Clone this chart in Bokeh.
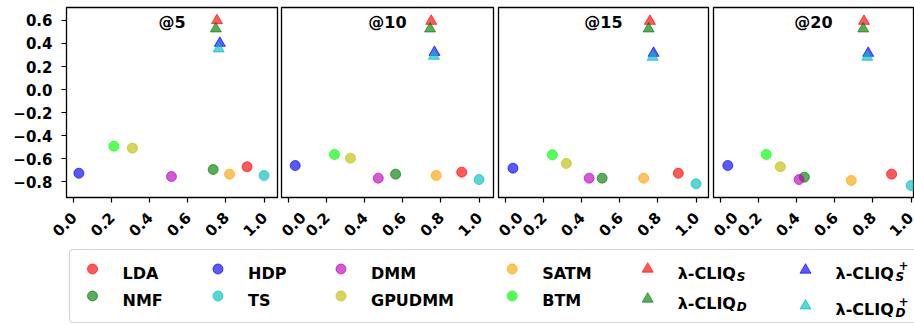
import math
from bokeh.plotting import figure
from bokeh.layouts import row, column
from bokeh.models import Range1d, FixedTicker, Label, BoxAnnotation, ColumnDataSource
from bokeh.core.properties import value
from bokeh.embed import file_html
from bokeh.resources import INLINE

# ---------------- data ----------------
panel_titles = ["@5", "@10", "@15", "@20"]
x_ticks = [0.0, 0.2, 0.4, 0.6, 0.8, 1.0]
y_ticks = [-0.8, -0.6, -0.4, -0.2, 0.0, 0.2, 0.4, 0.6]

baseline_names = ["LDA", "NMF", "HDP", "TS", "DMM", "GPUDMM", "SATM", "BTM"]
baseline_colors = ["#ff0000", "#008000", "#0000ff", "#00bfbf",
                   "#bf00bf", "#bfbf00", "#ffa500", "#00ff00"]

# values for the four panels (@5, @10, @15, @20)
lda_x = [0.911, 0.909, 0.907, 0.898]
lda_y = [-0.672, -0.719, -0.728, -0.736]
nmf_x = [0.733, 0.562, 0.507, 0.440]
nmf_y = [-0.696, -0.736, -0.771, -0.762]
hdp_x = [0.028, 0.035, 0.039, 0.038]
hdp_y = [-0.728, -0.661, -0.684, -0.661]
ts_x = [1.000, 1.000, 1.000, 1.000]
ts_y = [-0.748, -0.783, -0.820, -0.835]
dmm_x = [0.514, 0.471, 0.439, 0.412]
dmm_y = [-0.757, -0.771, -0.771, -0.783]
gpudmm_x = [0.309, 0.325, 0.319, 0.314]
gpudmm_y = [-0.510, -0.597, -0.643, -0.672]
satm_x = [0.819, 0.775, 0.725, 0.686]
satm_y = [-0.736, -0.748, -0.771, -0.791]
btm_x = [0.212, 0.241, 0.246, 0.240]
btm_y = [-0.493, -0.565, -0.568, -0.565]

cliq_names = ["λ-CLIQ_S", "λ-CLIQ_D", "λ-CLIQ_S^+", "λ-CLIQ_D^+"]
cliq_colors = ["#ff0000", "#008000", "#0000ff", "#00bfbf"]
cliq_s_x = [0.753, 0.749, 0.758, 0.753]
cliq_s_y = [0.600, 0.594, 0.594, 0.594]
cliq_d_x = [0.747, 0.743, 0.751, 0.749]
cliq_d_y = [0.528, 0.528, 0.528, 0.528]
cliq_sp_x = [0.768, 0.766, 0.777, 0.775]
cliq_sp_y = [0.403, 0.324, 0.316, 0.316]
cliq_dp_x = [0.762, 0.763, 0.772, 0.770]
cliq_dp_y = [0.354, 0.290, 0.281, 0.281]

baseline_xs = [lda_x, nmf_x, hdp_x, ts_x, dmm_x, gpudmm_x, satm_x, btm_x]
baseline_ys = [lda_y, nmf_y, hdp_y, ts_y, dmm_y, gpudmm_y, satm_y, btm_y]
cliq_xs = [cliq_s_x, cliq_d_x, cliq_sp_x, cliq_dp_x]
cliq_ys = [cliq_s_y, cliq_d_y, cliq_sp_y, cliq_dp_y]

# ---------------- layout / style ----------------
FONT = "DejaVu Sans"
ALPHA = 0.65
X_START = -0.037
PX_PER_UNIT = 190.5
Y_START, Y_END = -0.939, 0.713
frame_ws = [211, 212, 210, 200]
left_bs = [66, 2, 2, 2]
right_bs = [2, 3, 3, 1]
TOP_B = 7
FRAME_H = 190
BOTTOM_B = 51
PANEL_H = TOP_B + FRAME_H + BOTTOM_B
TOTAL_H = 324

panels = []
for k in range(4):
    x_end = X_START + frame_ws[k] / PX_PER_UNIT
    p = figure(width=left_bs[k] + frame_ws[k] + right_bs[k], height=PANEL_H,
               x_range=Range1d(X_START, x_end), y_range=Range1d(Y_START, Y_END),
               output_backend="svg", toolbar_location=None,
               y_axis_location="left" if k == 0 else None,
               min_border_left=left_bs[k], min_border_right=right_bs[k],
               min_border_top=TOP_B, min_border_bottom=BOTTOM_B)
    p.grid.visible = False
    p.outline_line_color = "black"
    p.outline_line_width = 1.3
    p.outline_line_alpha = 1.0
    p.background_fill_color = "white"
    p.border_fill_color = "white"

    p.xaxis.ticker = FixedTicker(ticks=x_ticks)
    p.xaxis.major_label_overrides = {t: f"{t:.1f}" for t in x_ticks}
    p.xaxis.major_label_orientation = math.pi / 4
    p.xaxis.major_label_text_align = "center"
    p.xaxis.major_label_text_baseline = "middle"
    axes = [p.xaxis]
    if k == 0:
        p.yaxis.ticker = FixedTicker(ticks=y_ticks)
        p.yaxis.major_label_overrides = {t: (f"{t:.1f}".replace("-", "\u2212")) for t in y_ticks}
        axes.append(p.yaxis)
    for ax in axes:
        ax.axis_line_color = None
        ax.major_tick_line_color = "black"
        ax.major_tick_line_width = 1.2
        ax.major_tick_out = 5
        ax.major_tick_in = 0
        ax.minor_tick_line_color = None
        ax.major_label_text_font = FONT
        ax.major_label_text_font_style = "bold"
        ax.major_label_text_font_size = "15px"
        ax.major_label_text_color = "black"
        ax.major_label_standoff = 9
    p.xaxis.major_label_standoff = 12

    for name, col, xs, ys in zip(baseline_names, baseline_colors, baseline_xs, baseline_ys):
        p.scatter(x=[xs[k]], y=[ys[k]], marker="circle", size=10,
                  fill_color=col, line_color=col, fill_alpha=ALPHA, line_alpha=ALPHA)
    for name, col, xs, ys in zip(cliq_names, cliq_colors, cliq_xs, cliq_ys):
        p.scatter(x=[xs[k]], y=[ys[k]], marker="triangle", size=11,
                  fill_color=col, line_color=col, fill_alpha=ALPHA, line_alpha=ALPHA)

    p.add_layout(Label(x=(X_START + x_end) / 2, y=0.583, text=panel_titles[k],
                       text_align="center", text_baseline="middle",
                       text_font=FONT, text_font_style="bold",
                       text_font_size="16px", text_color="black"))
    panels.append(p)

# ---------------- legend ----------------
# legend coordinates: x = page pixels, y = pixels above the bottom of the page
LEG_W, LEG_H = 914, TOTAL_H - PANEL_H
leg = figure(width=LEG_W, height=LEG_H, x_range=Range1d(0, LEG_W), y_range=Range1d(0, LEG_H),
             output_backend="svg", toolbar_location=None,
             x_axis_location=None, y_axis_location=None, min_border=0)
leg.grid.visible = False
leg.outline_line_color = None
leg.background_fill_color = "white"
leg.border_fill_color = "white"

leg.add_layout(BoxAnnotation(left=69, right=LEG_W + 20, bottom=2, top=min(76, LEG_H - 1),
                             fill_color="white", fill_alpha=1.0,
                             line_color="#d4d4d4", line_alpha=1.0, line_width=1.2,
                             border_radius=4, level="underlay"))

col_marker_x = [92, 217.5, 340.5, 511.7, 647.2, 805]
row1_marker_y = [55.5, 55.5, 55.5, 55.5, 55.5, 54.5]
row2_marker_y = [28.5, 28.5, 28.5, 28.5, 25.5, 18.7]
row1_text_y = [51, 51, 51, 51, 51, 51]
row2_text_y = [24, 24, 24, 24, 21.3, 14.7]
TEXT_DX = 30

all_names = baseline_names + ["λ-CLIQ"] * 4
all_colors = baseline_colors + cliq_colors
all_markers = ["circle"] * 8 + ["triangle"] * 4
mx, my, tx, ty = [], [], [], []
for i in range(12):
    c, r = i // 2, i % 2
    mx.append(col_marker_x[c])
    my.append(row1_marker_y[c] if r == 0 else row2_marker_y[c])
    tx.append(col_marker_x[c] + TEXT_DX)
    ty.append(row1_text_y[c] if r == 0 else row2_text_y[c])

msrc = ColumnDataSource(dict(x=mx, y=my, marker=all_markers, color=all_colors,
                             size=[10] * 8 + [11] * 4))
leg.scatter(x="x", y="y", marker="marker", size="size", source=msrc,
            fill_color="color", line_color="color", fill_alpha=ALPHA, line_alpha=ALPHA)
leg.text(x=tx, y=ty, text=all_names, text_font=value(FONT), text_font_style="bold",
         text_font_size="16px", text_baseline="alphabetic", text_align="left",
         text_color="black")

# subscripts / superscripts of the λ-CLIQ entries
sub_text = ["S", "D", "S", "D"]
sub_dx = [59, 59, 60, 60]
sx_, sy_ = [], []
for j in range(4):
    i = 8 + j
    sx_.append(tx[i] + sub_dx[j])
    sy_.append(ty[i] - 3.5)
leg.text(x=sx_, y=sy_, text=sub_text, text_font=value(FONT), text_font_style="bold italic",
         text_font_size="12px", text_baseline="alphabetic", text_align="left",
         text_color="black")
sup_x = [tx[10] + 63, tx[11] + 63]
sup_y = [ty[10] + 8, ty[11] + 8]
leg.text(x=sup_x, y=sup_y, text=["+", "+"], text_font=value(FONT), text_font_style="bold",
         text_font_size="12px", text_baseline="alphabetic", text_align="left",
         text_color="black")

layout = column(row(*panels), leg)
open("out.html", "w").write(file_html(layout, INLINE))
